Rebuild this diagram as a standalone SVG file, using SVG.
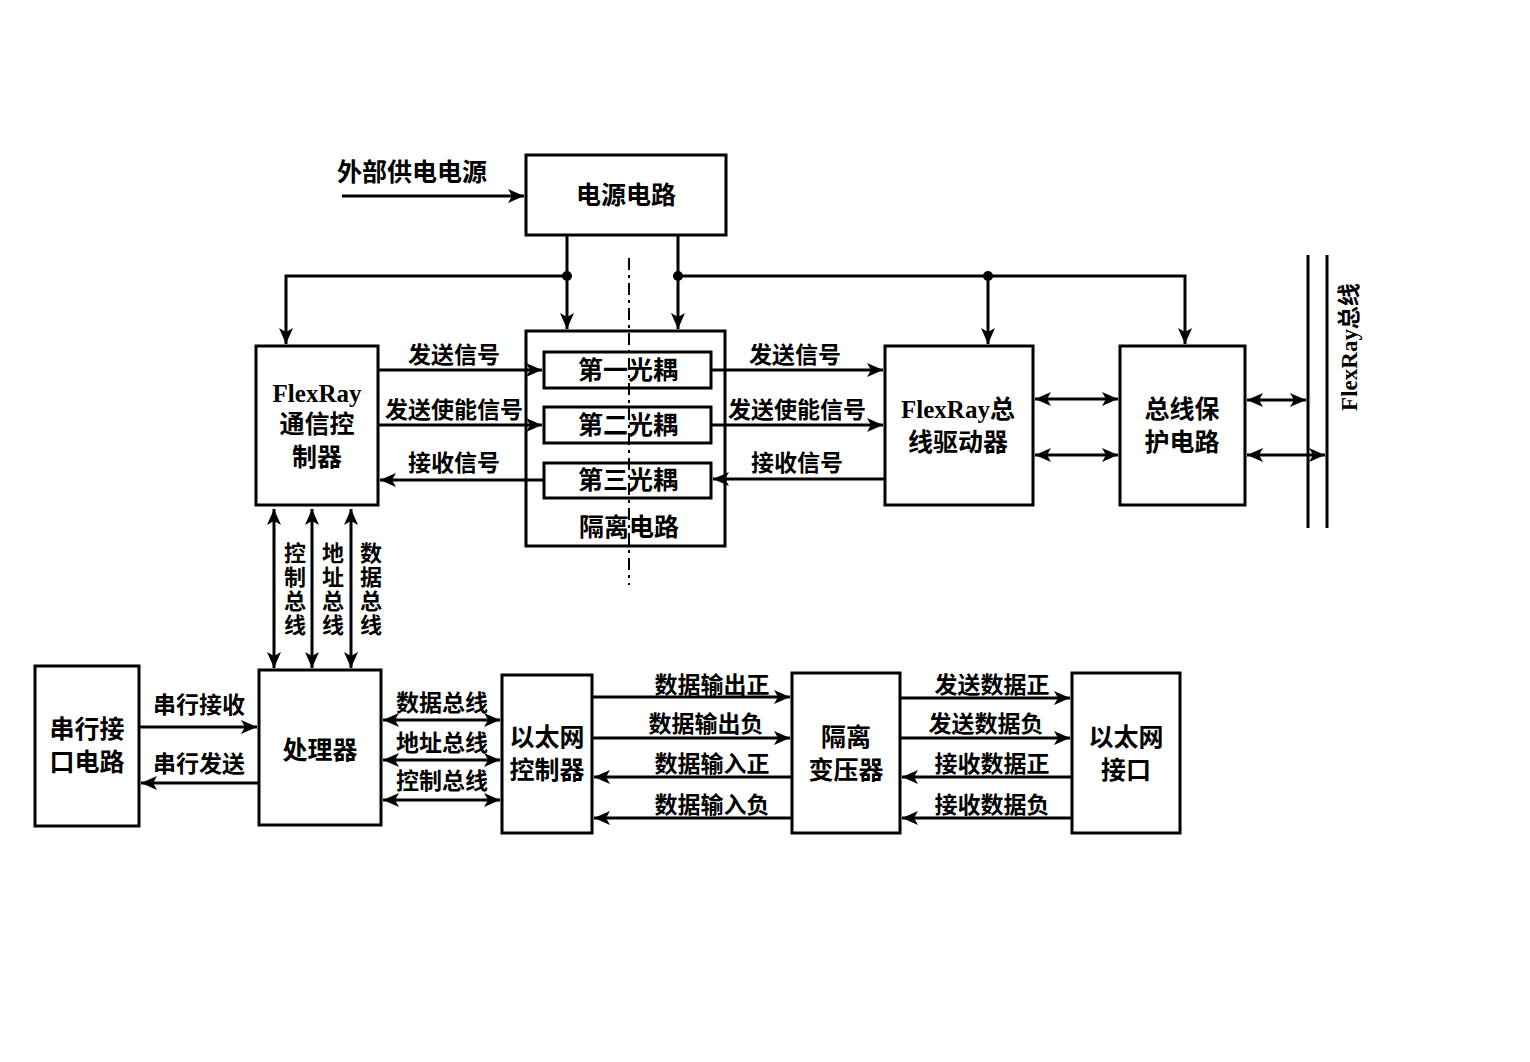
<svg xmlns="http://www.w3.org/2000/svg" width="1530" height="1062" viewBox="0 0 1530 1062">
<style>
.box{fill:#fff;stroke:#000;stroke-width:3}
.ln{fill:none;stroke:#000;stroke-width:3}
.t{font-family:"Noto Sans CJK SC","Noto Sans",sans-serif;font-weight:bold;font-size:25px;fill:#000;text-anchor:middle}
.lt{font-family:"Noto Sans CJK SC","Noto Sans",sans-serif;font-weight:bold;font-size:23px;fill:#000;text-anchor:middle}
.vt{font-family:"Noto Sans CJK SC","Noto Sans",sans-serif;font-weight:bold;font-size:22px;fill:#000;writing-mode:vertical-rl;text-orientation:upright;letter-spacing:2px}
.fr{font-family:"Liberation Serif","Noto Sans CJK SC",serif;font-weight:bold}
</style>
<defs>
<marker id="ah" markerUnits="userSpaceOnUse" markerWidth="18" markerHeight="16" refX="16" refY="8" orient="auto-start-reverse">
<path d="M0,1 L16,8 L0,15 L4,8 Z" fill="#000"/>
</marker>
</defs>
<rect width="1530" height="1062" fill="#fff"/>

<g id="power">
<rect class="box" x="526" y="155" width="200" height="80"/>
<text class="t" x="626" y="204">电源电路</text>
</g>
<g id="ext-power-label"><text class="t" x="412" y="181">外部供电电源</text></g>

<g id="isolation">
<rect class="box" x="526" y="331" width="199" height="215"/>
<text class="t" x="629" y="536">隔离电路</text>
</g>
<g id="opto1"><rect class="box" x="544" y="352" width="167" height="36"/><text class="t" x="628" y="379">第一光耦</text></g>
<g id="opto2"><rect class="box" x="544" y="407" width="167" height="36"/><text class="t" x="628" y="434">第二光耦</text></g>
<g id="opto3"><rect class="box" x="544" y="463" width="167" height="35"/><text class="t" x="628" y="489">第三光耦</text></g>

<g id="flexray-ctrl">
<rect class="box" x="256" y="346" width="122" height="159"/>
<text class="t fr" x="317" y="402">FlexRay</text>
<text class="t" x="317" y="433">通信控</text>
<text class="t" x="317" y="466">制器</text>
</g>

<g id="flexray-driver">
<rect class="box" x="885" y="346" width="148" height="159"/>
<text class="t" x="958" y="418"><tspan class="fr">FlexRay</tspan>总</text>
<text class="t" x="958" y="451">线驱动器</text>
</g>

<g id="bus-protect">
<rect class="box" x="1120" y="346" width="125" height="159"/>
<text class="t" x="1182" y="418">总线保</text>
<text class="t" x="1182" y="451">护电路</text>
</g>

<g id="flexray-bus">
<line class="ln" x1="1308" y1="255" x2="1308" y2="528"/>
<line class="ln" x1="1327" y1="255" x2="1327" y2="528"/>
<text class="lt" transform="translate(1357,347) rotate(-90)"><tspan class="fr">FlexRay</tspan>总线</text>
</g>

<g id="processor">
<rect class="box" x="259" y="670" width="122" height="155"/>
<text class="t" x="320" y="759">处理器</text>
</g>

<g id="serial">
<rect class="box" x="35" y="666" width="104" height="160"/>
<text class="t" x="87" y="738">串行接</text>
<text class="t" x="87" y="771">口电路</text>
</g>

<g id="eth-ctrl">
<rect class="box" x="502" y="675" width="90" height="158"/>
<text class="t" x="547" y="746">以太网</text>
<text class="t" x="547" y="779">控制器</text>
</g>

<g id="iso-transformer">
<rect class="box" x="792" y="673" width="108" height="160"/>
<text class="t" x="846" y="746">隔离</text>
<text class="t" x="846" y="779">变压器</text>
</g>

<g id="eth-port">
<rect class="box" x="1072" y="673" width="108" height="160"/>
<text class="t" x="1126" y="746">以太网</text>
<text class="t" x="1126" y="779">接口</text>
</g>

<g id="connectors">
<line x1="629" y1="258" x2="629" y2="585" stroke="#000" stroke-width="2" stroke-dasharray="12,5,3,5"/>
<line class="ln" x1="342" y1="196" x2="524" y2="196" marker-end="url(#ah)"/>
<line class="ln" x1="567" y1="235" x2="567" y2="329" marker-end="url(#ah)"/>
<line class="ln" x1="678" y1="235" x2="678" y2="329" marker-end="url(#ah)"/>
<polyline class="ln" points="567,276 286,276 286,344" marker-end="url(#ah)"/>
<polyline class="ln" points="678,276 1185,276 1185,344" marker-end="url(#ah)"/>
<line class="ln" x1="988" y1="276" x2="988" y2="344" marker-end="url(#ah)"/>
<circle cx="567" cy="276" r="5"/>
<circle cx="678" cy="276" r="5"/>
<circle cx="988" cy="276" r="5"/>

<line class="ln" x1="378" y1="370" x2="542" y2="370" marker-end="url(#ah)"/>
<line class="ln" x1="378" y1="425" x2="542" y2="425" marker-end="url(#ah)"/>
<line class="ln" x1="544" y1="480" x2="380" y2="480" marker-end="url(#ah)"/>
<line class="ln" x1="711" y1="370" x2="883" y2="370" marker-end="url(#ah)"/>
<line class="ln" x1="711" y1="425" x2="883" y2="425" marker-end="url(#ah)"/>
<line class="ln" x1="885" y1="479" x2="713" y2="479" marker-end="url(#ah)"/>

<line class="ln" x1="1035" y1="399" x2="1118" y2="399" marker-start="url(#ah)" marker-end="url(#ah)"/>
<line class="ln" x1="1035" y1="455" x2="1118" y2="455" marker-start="url(#ah)" marker-end="url(#ah)"/>
<line class="ln" x1="1247" y1="400" x2="1306" y2="400" marker-start="url(#ah)" marker-end="url(#ah)"/>
<line class="ln" x1="1247" y1="455" x2="1325" y2="455" marker-start="url(#ah)" marker-end="url(#ah)"/>

<line class="ln" x1="274" y1="509" x2="274" y2="668" marker-start="url(#ah)" marker-end="url(#ah)"/>
<line class="ln" x1="312" y1="509" x2="312" y2="668" marker-start="url(#ah)" marker-end="url(#ah)"/>
<line class="ln" x1="351" y1="509" x2="351" y2="668" marker-start="url(#ah)" marker-end="url(#ah)"/>

<line class="ln" x1="139" y1="727" x2="257" y2="727" marker-end="url(#ah)"/>
<line class="ln" x1="259" y1="783" x2="141" y2="783" marker-end="url(#ah)"/>

<line class="ln" x1="383" y1="720" x2="500" y2="720" marker-start="url(#ah)" marker-end="url(#ah)"/>
<line class="ln" x1="383" y1="760" x2="500" y2="760" marker-start="url(#ah)" marker-end="url(#ah)"/>
<line class="ln" x1="383" y1="800" x2="500" y2="800" marker-start="url(#ah)" marker-end="url(#ah)"/>

<line class="ln" x1="592" y1="697" x2="790" y2="697" marker-end="url(#ah)"/>
<line class="ln" x1="592" y1="738" x2="790" y2="738" marker-end="url(#ah)"/>
<line class="ln" x1="792" y1="777" x2="594" y2="777" marker-end="url(#ah)"/>
<line class="ln" x1="792" y1="818" x2="594" y2="818" marker-end="url(#ah)"/>
<line class="ln" x1="900" y1="698" x2="1070" y2="698" marker-end="url(#ah)"/>
<line class="ln" x1="900" y1="738" x2="1070" y2="738" marker-end="url(#ah)"/>
<line class="ln" x1="1072" y1="777" x2="902" y2="777" marker-end="url(#ah)"/>
<line class="ln" x1="1072" y1="818" x2="902" y2="818" marker-end="url(#ah)"/>
</g>

<g id="labels">
<text class="lt" x="454" y="363">发送信号</text>
<text class="lt" x="454" y="418">发送使能信号</text>
<text class="lt" x="454" y="471">接收信号</text>
<text class="lt" x="795" y="363">发送信号</text>
<text class="lt" x="797" y="418">发送使能信号</text>
<text class="lt" x="797" y="471">接收信号</text>
<text class="lt" x="199" y="713">串行接收</text>
<text class="lt" x="199" y="772">串行发送</text>
<text class="lt" x="442" y="711">数据总线</text>
<text class="lt" x="442" y="751">地址总线</text>
<text class="lt" x="442" y="789">控制总线</text>
<text class="lt" x="712" y="693">数据输出正</text>
<text class="lt" x="706" y="732">数据输出负</text>
<text class="lt" x="712" y="772">数据输入正</text>
<text class="lt" x="712" y="813">数据输入负</text>
<text class="lt" x="992" y="693">发送数据正</text>
<text class="lt" x="986" y="732">发送数据负</text>
<text class="lt" x="992" y="772">接收数据正</text>
<text class="lt" x="992" y="813">接收数据负</text>
<text class="vt" x="295" y="542">控制总线</text>
<text class="vt" x="333" y="542">地址总线</text>
<text class="vt" x="371" y="542">数据总线</text>
</g>
</svg>
